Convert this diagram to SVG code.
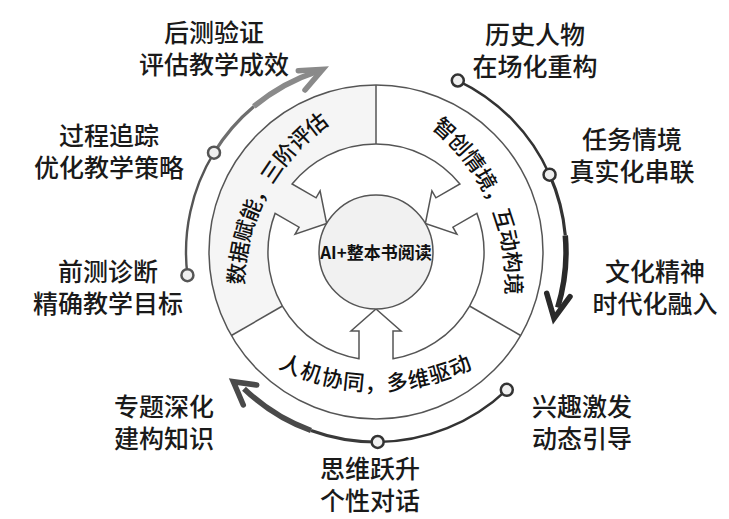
<svg xmlns="http://www.w3.org/2000/svg" width="729" height="519" viewBox="0 0 729 519">
<defs>
<style>
.lbl{font-family:"Noto Sans CJK SC","Noto Sans",sans-serif;font-size:25px;font-weight:500;fill:#1a1a1a;text-anchor:middle}
.rt{font-family:"Noto Sans CJK SC","Noto Sans",sans-serif;font-size:21.5px;font-weight:500;fill:#111}
.hub{font-family:"Noto Sans CJK SC","Noto Sans",sans-serif;font-size:17px;font-weight:700;fill:#111;text-anchor:middle}
.line{fill:none;stroke:#555;stroke-width:1.5}
.dot{fill:#f0f0f0;stroke:#333;stroke-width:2.5}
.edge{fill:none}
.head{fill:none;stroke-width:5.5;stroke-linejoin:miter;stroke-linecap:round}
</style>
<path id="pL" d="M258.55,363.07 A200,200 0 0 1 402.41,92.52"/>
<path id="pR" d="M360.79,91.07 A200,200 0 0 1 485.42,370.99"/>
<path id="pB" d="M210.53,313.84 A216,216 0 0 0 541.47,313.84"/>
</defs>
<rect width="729" height="519" fill="#ffffff"/>

<g id="outer-ring">
<circle cx="376" cy="252" r="167" fill="#ffffff"/>
<path d="M376,252 L376,85 A167,167 0 0 0 231.38,335.5 Z" fill="#f5f5f5"/>
<circle class="line" cx="376" cy="252" r="167"/>
<line class="line" x1="376" y1="144" x2="376" y2="85"/>
<line class="line" x1="282.47" y1="306" x2="231.38" y2="335.5"/>
<line class="line" x1="469.53" y1="306" x2="520.62" y2="335.5"/>
</g>

<g id="sector-data">
<text class="rt" letter-spacing="-0.5"><textPath href="#pL" startOffset="50%" text-anchor="middle">数据赋能，三阶评估</textPath></text>
</g>
<g id="sector-scene">
<text class="rt" letter-spacing="-0.5"><textPath href="#pR" startOffset="50%" text-anchor="middle">智创情境，互动构境</textPath></text>
</g>
<g id="sector-collab">
<text class="rt" letter-spacing="1"><textPath href="#pB" startOffset="50%" text-anchor="middle">人机协同，多维驱动</textPath></text>
</g>

<g id="hub-arrows">
<path class="line" d="M292.10,183.93 A108,108 0 0 1 459.90,183.93 L435.91,197.78 L431.91,190.85 L425.36,223.5 L456.91,234.15 L452.91,227.22 L476.90,213.37 A108,108 0 0 1 393,358.7 L393,331 L401,331 L376,309 L351,331 L359,331 L359,358.7 A108,108 0 0 1 275.10,213.37 L299.09,227.22 L295.09,234.15 L326.64,223.5 L320.09,190.85 L316.09,197.78 Z" style="fill:#ffffff"/>
</g>

<g id="center-node">
<circle class="line" cx="376" cy="252" r="57" style="fill:#f1f1f1"/>
<text class="hub" x="376" y="258.5">AI+整本书阅读</text>
</g>

<g id="connectors">
<path class="edge" d="M187.42,275.16 A190,190 0 0 1 214.00,152.72" stroke="#555" stroke-width="2.4"/>
<path class="edge" d="M214.00,152.72 A190,190 0 0 1 253.87,106.46" stroke="#6e6e6e" stroke-width="3.2"/>
<path class="edge" d="M253.87,106.46 A190,190 0 0 1 317.29,71.30" stroke="#8a8a8a" stroke-width="5.5"/>
<path class="head" d="M298.3,70.7 L322.7,69.3 L305,90" stroke="#8a8a8a"/>

<path class="edge" d="M457.80,80.51 A190,190 0 0 1 549.57,174.72" stroke="#333" stroke-width="2.5"/>
<path class="edge" d="M549.57,174.72 A190,190 0 0 1 565.28,235.44" stroke="#333" stroke-width="3.2"/>
<path class="edge" d="M565.28,235.44 A190,190 0 0 1 557.70,307.55" stroke="#2a2a2a" stroke-width="5.5"/>
<path class="head" d="M546.7,293.3 L554,318.3 L570,296.7" stroke="#2a2a2a"/>

<path class="edge" d="M506.79,389.82 A190,190 0 0 1 377.66,441.99" stroke="#333" stroke-width="2.5"/>
<path class="edge" d="M377.66,441.99 A190,190 0 0 1 311.02,430.54" stroke="#3a3a3a" stroke-width="3.2"/>
<path class="edge" d="M311.02,430.54 A190,190 0 0 1 244.01,388.67" stroke="#4a4a4a" stroke-width="5.5"/>
<path class="head" d="M256.7,385 L233.3,381.7 L243.3,405" stroke="#4a4a4a"/>
</g>

<g id="node-post-test">
<text class="lbl" x="214" y="41.5">后测验证</text>
<text class="lbl" x="214" y="73.5">评估教学成效</text>
</g>
<g id="node-history">
<text class="lbl" x="535" y="43.5">历史人物</text>
<text class="lbl" x="535" y="75.5">在场化重构</text>
<circle class="dot" cx="457.80" cy="80.51" r="6"/>
</g>
<g id="node-process">
<text class="lbl" x="109" y="144.5">过程追踪</text>
<text class="lbl" x="109" y="176.5">优化教学策略</text>
<circle class="dot" cx="214.00" cy="152.72" r="6" style="stroke:#555"/>
</g>
<g id="node-task">
<text class="lbl" x="632" y="148.5">任务情境</text>
<text class="lbl" x="632" y="180.5">真实化串联</text>
<circle class="dot" cx="549.57" cy="174.72" r="6"/>
</g>
<g id="node-pre-test">
<text class="lbl" x="108" y="280.5">前测诊断</text>
<text class="lbl" x="108" y="312.5">精确教学目标</text>
<circle class="dot" cx="187.42" cy="275.16" r="6" style="stroke:#555"/>
</g>
<g id="node-culture">
<text class="lbl" x="655" y="280.5">文化精神</text>
<text class="lbl" x="655" y="312.5">时代化融入</text>
</g>
<g id="node-topic">
<text class="lbl" x="164" y="416">专题深化</text>
<text class="lbl" x="164" y="448">建构知识</text>
</g>
<g id="node-interest">
<text class="lbl" x="582" y="416">兴趣激发</text>
<text class="lbl" x="582" y="448">动态引导</text>
<circle class="dot" cx="506.79" cy="389.82" r="6"/>
</g>
<g id="node-thinking">
<text class="lbl" x="370" y="477.5">思维跃升</text>
<text class="lbl" x="370" y="509.5">个性对话</text>
<circle class="dot" cx="377.66" cy="441.99" r="6"/>
</g>
</svg>
